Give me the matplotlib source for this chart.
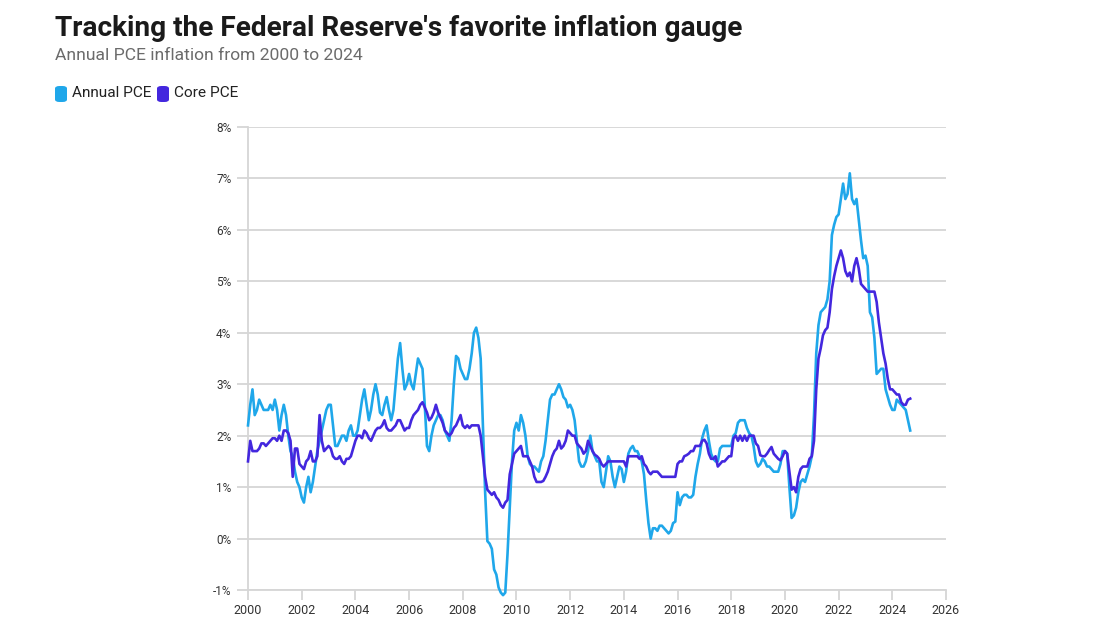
import matplotlib
matplotlib.use("Agg")
import matplotlib.pyplot as plt
from matplotlib.patches import FancyBboxPatch
import numpy as np

start_year = 2000
# Monthly year-over-year % change, Jan 2000 - Sep 2024
annual_pce = [
    # 2000
    2.2, 2.6, 2.9, 2.4, 2.5, 2.7, 2.6, 2.5, 2.5, 2.5, 2.6, 2.5,
    # 2001
    2.7, 2.5, 2.1, 2.4, 2.6, 2.4, 2.0, 1.7, 1.6, 1.3, 1.1, 1.0,
    # 2002
    0.8, 0.7, 1.0, 1.2, 0.9, 1.1, 1.4, 1.7, 1.9, 2.1, 2.3, 2.5,
    # 2003
    2.6, 2.6, 2.2, 1.8, 1.8, 1.9, 2.0, 2.0, 1.9, 2.1, 2.2, 2.0,
    # 2004
    2.0, 2.1, 2.4, 2.7, 2.9, 2.6, 2.3, 2.5, 2.8, 3.0, 2.8, 2.45,
    # 2005
    2.4, 2.6, 2.75, 2.5, 2.3, 2.5, 3.0, 3.5, 3.8, 3.3, 2.9, 3.0,
    # 2006
    3.2, 3.0, 2.9, 3.2, 3.5, 3.4, 3.3, 2.6, 1.8, 1.7, 2.0, 2.2,
    # 2007
    2.3, 2.4, 2.4, 2.3, 2.1, 2.0, 1.9, 2.3, 3.0, 3.55, 3.5, 3.3,
    # 2008
    3.2, 3.1, 3.1, 3.3, 3.6, 4.0, 4.1, 3.9, 3.5, 2.2, 0.9, -0.05,
    # 2009
    -0.1, -0.2, -0.6, -0.7, -0.95, -1.05, -1.1, -1.05, -0.3, 0.6, 1.5, 2.1,
    # 2010
    2.25, 2.1, 2.4, 2.25, 2.0, 1.6, 1.45, 1.4, 1.4, 1.35, 1.3, 1.5,
    # 2011
    1.6, 1.9, 2.3, 2.7, 2.8, 2.8, 2.9, 3.0, 2.9, 2.75, 2.7, 2.55,
    # 2012
    2.6, 2.5, 2.3, 1.9, 1.5, 1.4, 1.4, 1.5, 1.7, 2.0, 1.7, 1.6,
    # 2013
    1.5, 1.5, 1.1, 1.0, 1.3, 1.6, 1.5, 1.2, 1.0, 1.2, 1.4, 1.35,
    # 2014
    1.1, 1.3, 1.65, 1.75, 1.8, 1.7, 1.7, 1.6, 1.5, 1.25, 0.75, 0.3,
    # 2015
    0.0, 0.2, 0.2, 0.15, 0.25, 0.25, 0.2, 0.15, 0.1, 0.15, 0.3, 0.33,
    # 2016
    0.9, 0.65, 0.8, 0.85, 0.85, 0.8, 0.8, 0.85, 1.2, 1.45, 1.65, 1.95,
    # 2017
    2.1, 2.2, 1.9, 1.65, 1.55, 1.5, 1.5, 1.75, 1.8, 1.8, 1.8, 1.8,
    # 2018
    1.8, 2.0, 2.05, 2.25, 2.3, 2.3, 2.3, 2.15, 2.05, 2.0, 1.8, 1.5,
    # 2019
    1.4, 1.45, 1.55, 1.5, 1.4, 1.4, 1.35, 1.3, 1.3, 1.3, 1.45, 1.7,
    # 2020
    1.7, 1.65, 1.0, 0.4, 0.45, 0.6, 0.9, 1.1, 1.15, 1.1, 1.25, 1.4,
    # 2021
    1.6, 2.4, 3.6, 4.15, 4.4, 4.45, 4.5, 4.65, 5.0, 5.9, 6.1, 6.25,
    # 2022
    6.3, 6.6, 6.9, 6.6, 6.7, 7.1, 6.6, 6.5, 6.6, 6.2, 5.8, 5.45,
    # 2023
    5.5, 5.3, 4.4, 4.3, 3.9, 3.2, 3.25, 3.3, 3.3, 2.9, 2.75, 2.6,
    # 2024
    2.5, 2.5, 2.7, 2.65, 2.6, 2.55, 2.5, 2.3, 2.1,
]
core_pce = [
    # 2000
    1.5, 1.9, 1.7, 1.7, 1.7, 1.75, 1.85, 1.85, 1.8, 1.85, 1.9, 1.95,
    # 2001
    1.95, 1.9, 2.0, 1.9, 2.1, 2.1, 2.05, 1.9, 1.2, 1.75, 1.75, 1.45,
    # 2002
    1.4, 1.35, 1.5, 1.55, 1.7, 1.5, 1.5, 1.6, 2.4, 1.9, 1.7, 1.75,
    # 2003
    1.8, 1.75, 1.6, 1.55, 1.55, 1.6, 1.5, 1.45, 1.55, 1.55, 1.6, 1.75,
    # 2004
    1.9, 2.0, 2.0, 1.95, 2.1, 2.05, 1.95, 1.9, 2.0, 2.1, 2.15, 2.15,
    # 2005
    2.2, 2.3, 2.15, 2.1, 2.1, 2.15, 2.2, 2.3, 2.3, 2.2, 2.1, 2.15,
    # 2006
    2.15, 2.3, 2.4, 2.45, 2.5, 2.6, 2.65, 2.55, 2.45, 2.3, 2.35, 2.45,
    # 2007
    2.6, 2.45, 2.35, 2.25, 2.1, 2.05, 2.0, 2.05, 2.15, 2.2, 2.3, 2.4,
    # 2008
    2.2, 2.15, 2.2, 2.15, 2.2, 2.2, 2.2, 2.2, 2.0, 1.6, 1.2, 0.95,
    # 2009
    0.9, 0.85, 0.9, 0.8, 0.75, 0.65, 0.6, 0.7, 0.75, 1.25, 1.45, 1.65,
    # 2010
    1.7, 1.75, 1.8, 1.6, 1.6, 1.6, 1.5, 1.4, 1.2, 1.1, 1.1, 1.1,
    # 2011
    1.12, 1.2, 1.3, 1.45, 1.6, 1.7, 1.75, 1.9, 1.75, 1.8, 1.9, 2.1,
    # 2012
    2.05, 2.0, 2.0, 1.85, 1.8, 1.75, 1.65, 1.7, 1.9, 1.8, 1.7, 1.63,
    # 2013
    1.6, 1.55, 1.45, 1.4, 1.45, 1.5, 1.5, 1.5, 1.5, 1.5, 1.5, 1.5,
    # 2014
    1.5, 1.4, 1.6, 1.6, 1.6, 1.6, 1.6, 1.55, 1.6, 1.45, 1.4, 1.3,
    # 2015
    1.25, 1.3, 1.3, 1.3, 1.25, 1.2, 1.2, 1.2, 1.2, 1.2, 1.2, 1.2,
    # 2016
    1.45, 1.5, 1.5, 1.6, 1.62, 1.65, 1.7, 1.7, 1.8, 1.8, 1.8, 1.9,
    # 2017
    1.92, 1.85, 1.65, 1.55, 1.55, 1.6, 1.4, 1.45, 1.5, 1.5, 1.55, 1.6,
    # 2018
    1.6, 1.95, 2.0, 1.9, 2.0, 1.9, 2.0, 1.9, 2.0, 2.0, 2.0, 1.85,
    # 2019
    1.8, 1.62, 1.6, 1.6, 1.65, 1.72, 1.78, 1.65, 1.6, 1.55, 1.52, 1.6,
    # 2020
    1.7, 1.65, 1.3, 0.95, 1.0, 0.9, 1.2, 1.35, 1.4, 1.4, 1.4, 1.55,
    # 2021
    1.6, 1.9, 2.9, 3.5, 3.7, 3.95, 4.05, 4.1, 4.4, 4.85, 5.1, 5.3,
    # 2022
    5.45, 5.6, 5.45, 5.2, 5.1, 5.17, 5.0, 5.3, 5.45, 5.25, 4.95, 4.9,
    # 2023
    4.85, 4.8, 4.8, 4.8, 4.8, 4.6, 4.2, 3.9, 3.6, 3.4, 3.1, 2.9,
    # 2024
    2.9, 2.85, 2.8, 2.8, 2.65, 2.6, 2.6, 2.7, 2.72,
]
series_names = ["Annual PCE", "Core PCE"]
series_colors = ["#1FA7EA", "#4327DE"]
y_ticks = [-1, 0, 1, 2, 3, 4, 5, 6, 7, 8]
x_ticks = list(range(2000, 2027, 2))

dates = start_year + np.arange(len(annual_pce)) / 12.0

plt.rcParams['font.family'] = ['Roboto', 'DejaVu Sans']

fig = plt.figure(figsize=(11.10, 6.39), dpi=100)
ax = fig.add_axes([248/1110, 1 - 590/639, (946-248)/1110, (590-127)/639])

grid_c = "#d6d6d6"
ax.plot(dates, annual_pce, color=series_colors[0], lw=1.9, solid_joinstyle='round', clip_on=False, zorder=3)
ax.plot(dates, core_pce, color=series_colors[1], lw=1.9, solid_joinstyle='round', clip_on=False, zorder=4)

ax.set_xlim(2000, 2026)
ax.set_ylim(-1, 8)
ax.set_yticks(y_ticks)
ax.set_yticklabels([f"{v}%" for v in y_ticks])
ax.set_xticks(x_ticks)
ax.set_xticklabels([str(v) for v in x_ticks])
for v in y_ticks:
    ax.axhline(v, color=grid_c, lw=1.3, zorder=1)
for s in ["top", "right"]:
    ax.spines[s].set_visible(False)
for s in ["left", "bottom"]:
    ax.spines[s].set_color(grid_c)
    ax.spines[s].set_linewidth(1.3)
ax.tick_params(axis='y', length=8, width=1.3, color=grid_c, labelsize=8.5, labelcolor="#333333", pad=4)
ax.tick_params(axis='x', length=7, width=1.3, color=grid_c, labelsize=9, labelcolor="#333333", pad=3)

fig.text(55/1110, 1 - 28/639, "Tracking the Federal Reserve's favorite inflation gauge",
         fontsize=20.2, fontweight='bold', color="#1a1a1a", va='center', ha='left')
fig.text(55/1110, 1 - 56/639, "Annual PCE inflation from 2000 to 2024",
         fontsize=12.6, color="#6b6b6b", va='center', ha='left')

# legend
leg_items = [(55, 72, series_names[0], series_colors[0]), (157, 174, series_names[1], series_colors[1])]
for bx, tx, name, col in leg_items:
    box = FancyBboxPatch((bx/1110, 1 - 102/639), 12/1110, 16/639,
                         boxstyle="round,pad=0,rounding_size=0.004",
                         transform=fig.transFigure, facecolor=col, edgecolor='none')
    fig.patches.append(box)
    fig.text(tx/1110, 1 - 93/639, name, fontsize=11.1, color="#222222", va='center', ha='left')

fig.savefig("out.png", dpi=100)
